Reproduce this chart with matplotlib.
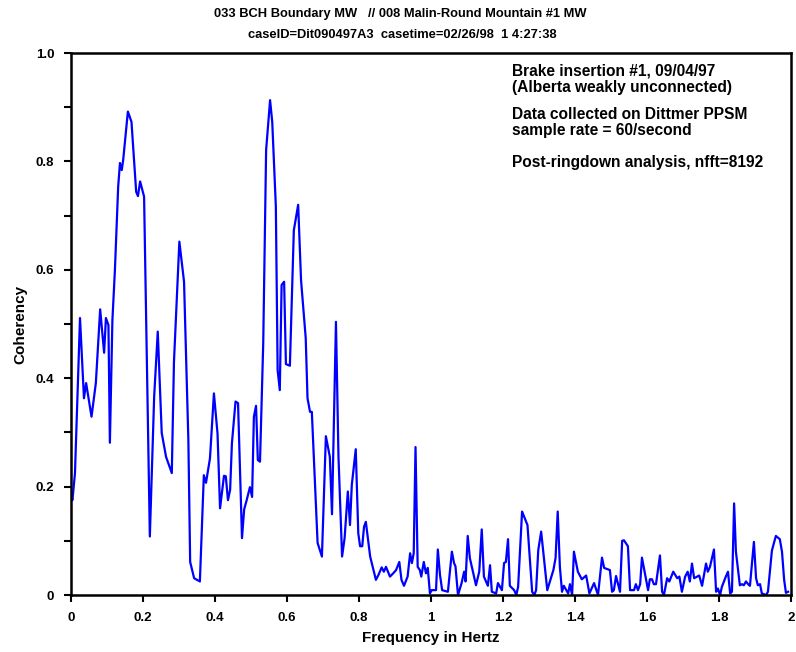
import matplotlib
matplotlib.use('Agg')
import matplotlib.pyplot as plt
import matplotlib.ticker as mticker

plt.rcParams['font.family'] = ['Liberation Sans', 'DejaVu Sans']
plt.rcParams['font.weight'] = 'bold'

# ---- data (frequency in Hz, coherency) ----
freq = [0.000, 0.004, 0.011, 0.025, 0.036, 0.042, 0.057, 0.069, 0.081, 0.092,
        0.097, 0.104, 0.108, 0.115, 0.122, 0.131, 0.136, 0.141, 0.145, 0.158,
        0.168, 0.181, 0.186, 0.192, 0.203, 0.219, 0.231, 0.241, 0.252, 0.264,
        0.280, 0.286, 0.301, 0.314, 0.326, 0.331, 0.342, 0.358, 0.369, 0.375,
        0.386, 0.397, 0.407, 0.414, 0.425, 0.430, 0.436, 0.442, 0.447, 0.457,
        0.464, 0.475, 0.481, 0.488, 0.497, 0.503, 0.508, 0.514, 0.519, 0.525,
        0.534, 0.542, 0.553, 0.559, 0.569, 0.574, 0.580, 0.585, 0.592, 0.597,
        0.608, 0.619, 0.631, 0.639, 0.652, 0.657, 0.664, 0.669, 0.685, 0.697,
        0.708, 0.719, 0.725, 0.736, 0.743, 0.753, 0.760, 0.769, 0.775, 0.780,
        0.791, 0.798, 0.803, 0.809, 0.814, 0.819, 0.831, 0.847, 0.854, 0.863,
        0.869, 0.875, 0.886, 0.895, 0.903, 0.912, 0.918, 0.925, 0.935, 0.942,
        0.947, 0.952, 0.957, 0.963, 0.969, 0.973, 0.980, 0.986, 0.991, 0.997,
        1.002, 1.014, 1.019, 1.025, 1.031, 1.047, 1.058, 1.064, 1.068, 1.075,
        1.085, 1.092, 1.096, 1.102, 1.108, 1.125, 1.134, 1.141, 1.147, 1.158,
        1.164, 1.169, 1.181, 1.186, 1.197, 1.203, 1.208, 1.214, 1.219, 1.231,
        1.237, 1.242, 1.253, 1.268, 1.281, 1.287, 1.292, 1.298, 1.306, 1.323,
        1.340, 1.346, 1.352, 1.358, 1.364, 1.369, 1.381, 1.386, 1.392, 1.397,
        1.408, 1.419, 1.431, 1.440, 1.453, 1.464, 1.475, 1.481, 1.497, 1.503,
        1.508, 1.514, 1.525, 1.531, 1.536, 1.547, 1.553, 1.564, 1.569, 1.575,
        1.581, 1.586, 1.603, 1.608, 1.614, 1.619, 1.625, 1.636, 1.642, 1.647,
        1.656, 1.662, 1.673, 1.684, 1.690, 1.697, 1.706, 1.713, 1.719, 1.725,
        1.731, 1.745, 1.753, 1.764, 1.769, 1.775, 1.786, 1.792, 1.797, 1.803,
        1.808, 1.819, 1.825, 1.831, 1.836, 1.842, 1.847, 1.858, 1.864, 1.869,
        1.875, 1.881, 1.886, 1.897, 1.903, 1.908, 1.914, 1.919, 1.931, 1.936,
        1.947, 1.958, 1.969, 1.975, 1.981, 1.986, 1.992]
coh = [0.181, 0.175, 0.225, 0.511, 0.363, 0.391, 0.329, 0.391, 0.527, 0.447,
       0.511, 0.498, 0.281, 0.507, 0.600, 0.753, 0.797, 0.784, 0.803, 0.892,
       0.873, 0.744, 0.736, 0.763, 0.735, 0.108, 0.366, 0.486, 0.299, 0.255,
       0.225, 0.430, 0.652, 0.578, 0.286, 0.061, 0.031, 0.025, 0.221, 0.207,
       0.252, 0.372, 0.298, 0.160, 0.220, 0.219, 0.175, 0.194, 0.280, 0.357,
       0.354, 0.105, 0.158, 0.175, 0.199, 0.181, 0.329, 0.349, 0.249, 0.246,
       0.465, 0.821, 0.913, 0.873, 0.717, 0.415, 0.378, 0.572, 0.578, 0.426,
       0.423, 0.673, 0.720, 0.581, 0.474, 0.363, 0.338, 0.338, 0.096, 0.071,
       0.293, 0.255, 0.149, 0.504, 0.255, 0.071, 0.105, 0.191, 0.129, 0.203,
       0.269, 0.114, 0.090, 0.090, 0.126, 0.135, 0.071, 0.028, 0.037, 0.051,
       0.043, 0.052, 0.034, 0.040, 0.046, 0.061, 0.028, 0.017, 0.034, 0.077,
       0.059, 0.077, 0.273, 0.052, 0.046, 0.034, 0.061, 0.040, 0.050, 0.003,
       0.009, 0.009, 0.084, 0.037, 0.009, 0.006, 0.080, 0.059, 0.053, 0.000,
       0.022, 0.043, 0.025, 0.109, 0.068, 0.018, 0.043, 0.121, 0.034, 0.017,
       0.055, 0.006, 0.003, 0.022, 0.009, 0.059, 0.061, 0.103, 0.017, 0.009,
       0.000, 0.015, 0.154, 0.129, 0.006, 0.000, 0.009, 0.083, 0.117, 0.009,
       0.046, 0.068, 0.154, 0.052, 0.006, 0.017, 0.003, 0.020, 0.000, 0.080,
       0.043, 0.029, 0.036, 0.003, 0.022, 0.000, 0.069, 0.050, 0.046, 0.006,
       0.009, 0.035, 0.006, 0.100, 0.101, 0.090, 0.009, 0.009, 0.020, 0.009,
       0.020, 0.069, 0.009, 0.029, 0.029, 0.020, 0.020, 0.073, 0.006, 0.000,
       0.031, 0.025, 0.043, 0.031, 0.034, 0.006, 0.034, 0.043, 0.025, 0.058,
       0.031, 0.036, 0.017, 0.058, 0.043, 0.052, 0.084, 0.006, 0.012, 0.000,
       0.015, 0.034, 0.043, 0.003, 0.006, 0.169, 0.080, 0.018, 0.020, 0.018,
       0.025, 0.020, 0.017, 0.098, 0.031, 0.018, 0.020, 0.003, 0.000, 0.006,
       0.082, 0.109, 0.103, 0.080, 0.028, 0.004, 0.006]

title_lines = ['033 BCH Boundary MW   // 008 Malin-Round Mountain #1 MW',
               'caseID=Dit090497A3  casetime=02/26/98  1 4:27:38']
notes = [('Brake insertion #1, 09/04/97\n(Alberta weakly unconnected)', 0.980),
         ('Data collected on Dittmer PPSM\nsample rate = 60/second', 0.900),
         ('Post-ringdown analysis, nfft=8192', 0.812)]

fig = plt.figure(figsize=(7.96, 6.52), dpi=100)
ax = fig.add_axes([0.0892, 0.0874, 0.9045, 0.8313])
ax.plot(freq, coh, color='#0000FF', lw=1.6)

ax.set_xlim(0, 2)
ax.set_ylim(0, 1)
ax.xaxis.set_major_locator(mticker.MultipleLocator(0.2))
ax.xaxis.set_major_formatter(mticker.FuncFormatter(lambda v, p: f'{v:g}'))
ax.yaxis.set_major_locator(mticker.MultipleLocator(0.2))
ax.yaxis.set_minor_locator(mticker.MultipleLocator(0.1))
ax.yaxis.set_major_formatter(mticker.FuncFormatter(lambda v, p: '0' if abs(v) < 1e-9 else f'{v:.1f}'))
ax.tick_params(axis='both', which='both', direction='out', width=1.5, length=5,
               labelsize=9.5, pad=7, colors='black')
for lbl in ax.get_xticklabels() + ax.get_yticklabels():
    lbl.set_fontweight('bold')
for sp in ax.spines.values():
    sp.set_linewidth(1.8)

ax.set_xlabel('Frequency in Hertz', fontsize=11, fontweight='bold', labelpad=5)
ax.set_ylabel('Coherency', fontsize=11, fontweight='bold', labelpad=6)

fig.text(0.503, 0.978, title_lines[0], ha='center', va='center', fontsize=9.3, fontweight='bold')
fig.text(0.505, 0.946, title_lines[1], ha='center', va='center', fontsize=9.3, fontweight='bold')

for txt, yy in notes:
    ax.text(1.225, yy, txt, transform=ax.transData, ha='left', va='top',
            fontsize=11.2, fontweight='bold', linespacing=1.08)

fig.savefig('out.png', dpi=100, facecolor='white')
